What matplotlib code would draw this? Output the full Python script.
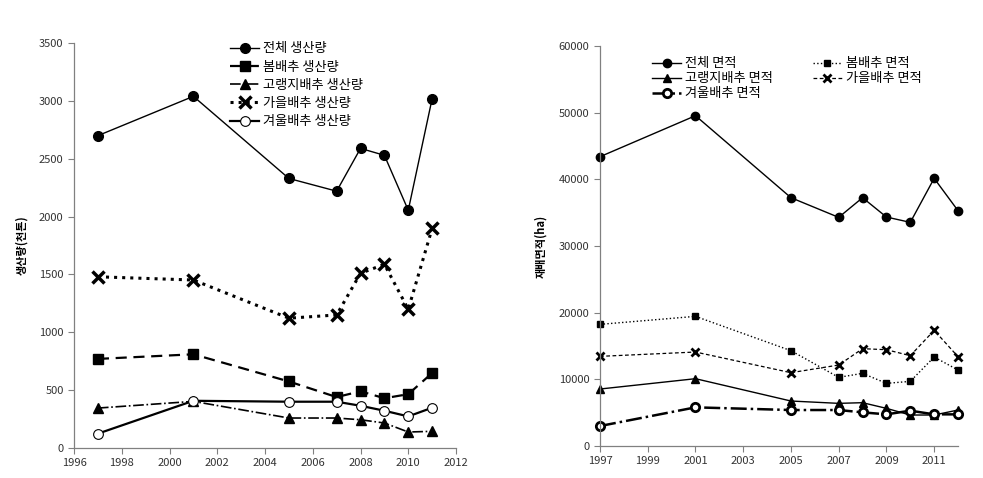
import numpy as np
import matplotlib
matplotlib.use("Agg")
from matplotlib import pyplot as plt

plt.rcParams['font.family'] = ['Noto Sans CJK KR', 'DejaVu Sans']

# production (천톤)
prod_years = [1997, 2001, 2005, 2007, 2008, 2009, 2010, 2011]
prod_total = [2700, 3040, 2330, 2220, 2590, 2530, 2055, 3020]
prod_spring = [770, 810, 575, 440, 490, 430, 465, 648]
prod_highland = [345, 403, 259, 259, 244, 216, 138, 144]
prod_autumn = [1480, 1452, 1122, 1150, 1510, 1588, 1199, 1898]
prod_winter = [124, 408, 400, 400, 365, 322, 273, 348]

# cultivated area (ha)
area_years = [1997, 2001, 2005, 2007, 2008, 2009, 2010, 2011, 2012]
area_total = [43400, 49550, 37250, 34300, 37250, 34350, 33550, 40150, 35300]
area_spring = [18250, 19450, 14300, 10300, 10900, 9400, 9700, 13350, 11400]
area_highland = [8550, 10100, 6750, 6400, 6500, 5650, 4650, 4650, 5400]
area_autumn = [13450, 14100, 11000, 12150, 14600, 14450, 13550, 17350, 13400]
area_winter = [3000, 5800, 5400, 5400, 5050, 4750, 5300, 4750, 4750]

fig = plt.figure(figsize=(9.83, 4.78), dpi=100)
ax1 = fig.add_axes([0.0753, 0.0628, 0.3886, 0.847])
ax2 = fig.add_axes([0.6104, 0.0669, 0.3642, 0.8368])

def style_axes(ax):
    for s in ['top', 'right']:
        ax.spines[s].set_visible(False)
    for s in ['left', 'bottom']:
        ax.spines[s].set_color('#808080')
        ax.spines[s].set_linewidth(0.9)
    ax.tick_params(axis='both', colors='#808080', labelcolor='#333333',
                   labelsize=8, direction='out', length=4)

k = 'black'
ax1.plot(prod_years, prod_total, '-', color=k, lw=1.0, marker='o', ms=7, label='전체 생산량')
ax1.plot(prod_years, prod_spring, '--', color=k, lw=1.6, marker='s', ms=7, dashes=(5, 3), label='봄배추 생산량')
ax1.plot(prod_years, prod_highland, '-.', color=k, lw=1.2, marker='^', ms=7, label='고랭지배추 생산량')
ax1.plot(prod_years, prod_autumn, ':', color=k, lw=2.2, marker='x', ms=8, mew=2.5, label='가을배추 생산량')
ax1.plot(prod_years, prod_winter, '-', color=k, lw=1.6, marker='o', ms=7, mfc='white', mew=0.8, label='겨울배추 생산량')
ax1.set_xlim(1996, 2012)
ax1.set_ylim(0, 3500)
ax1.set_xticks(np.arange(1996, 2013, 2))
ax1.set_yticks(np.arange(0, 3501, 500))
ax1.set_ylabel('생산량(천톤)', fontsize=8, fontweight='bold', labelpad=8)
style_axes(ax1)
ax1.legend(loc='upper left', bbox_to_anchor=(0.385, 1.025), frameon=False, fontsize=9.5,
           handlelength=2.2, labelspacing=0.4, handletextpad=0.3, borderpad=0.2)

ax2.plot(area_years, area_total, '-', color=k, lw=1.0, marker='o', ms=6, label='전체 면적', clip_on=False)
ax2.plot(area_years, area_highland, '-', color=k, lw=1.0, marker='^', ms=6, label='고랭지배추 면적', clip_on=False)
ax2.plot(area_years, area_winter, '-.', color=k, lw=1.8, marker='o', ms=6, mfc='white', mew=2.0, label='겨울배추 면적', clip_on=False)
ax2.plot(area_years, area_spring, ':', color=k, lw=1.0, marker='s', ms=5, label='봄배추 면적', clip_on=False)
ax2.plot(area_years, area_autumn, '--', color=k, lw=0.9, marker='x', ms=6, mew=2.0, dashes=(3, 2), label='가을배추 면적', clip_on=False)
ax2.set_xlim(1997, 2012)
ax2.set_ylim(0, 60000)
ax2.set_xticks(np.arange(1997, 2012, 2))
ax2.set_yticks(np.arange(0, 60001, 10000))
ax2.set_ylabel('재배면적(ha)', fontsize=8, fontweight='bold', labelpad=8)
style_axes(ax2)
ax2.legend(loc='upper left', bbox_to_anchor=(0.12, 0.995), ncol=2, frameon=False, fontsize=9.5,
           handlelength=2.2, labelspacing=0.15, handletextpad=0.3, columnspacing=3.0, borderpad=0.2)

fig.savefig('out.png', dpi=100)
